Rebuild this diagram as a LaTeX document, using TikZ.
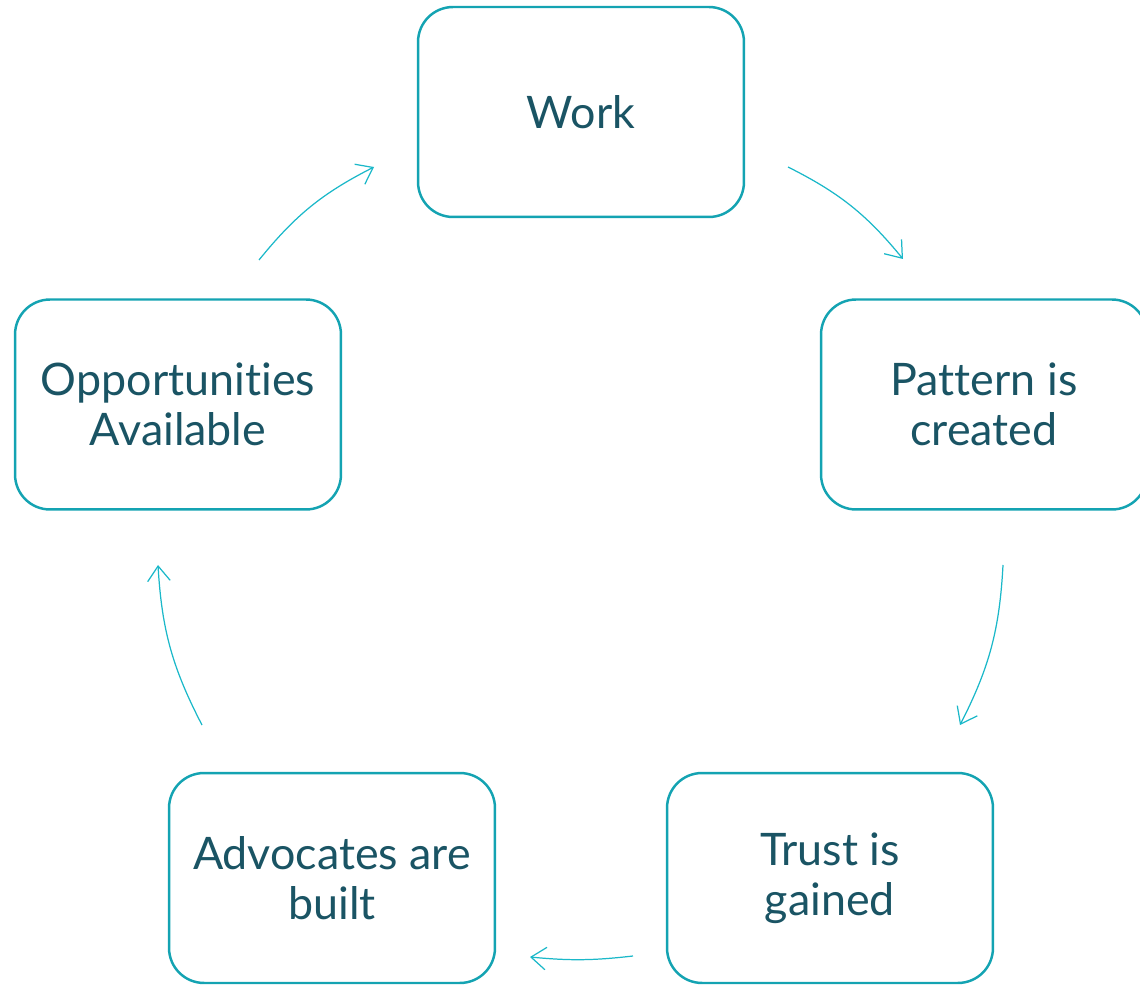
\documentclass[tikz,border=0pt]{standalone}
\usepackage{fontspec}
\setmainfont[Ligatures=NoCommon]{Lato}
\usepackage{xcolor}
\usetikzlibrary{arrows.meta}
\definecolor{boxcolor}{HTML}{14A3B2}
\definecolor{arrowcolor}{HTML}{1BB8C9}
\definecolor{textcolor}{HTML}{1A5464}
\tikzset{
  stagebox/.style={draw=boxcolor, line width=1.4pt, rounded corners=0.7cm, minimum width=6.52cm, minimum height=4.2cm, align=center, text=textcolor, font=\fontsize{25.5pt}{28.5pt}\selectfont},
  cyclearrow/.style={draw=arrowcolor, line width=0.7pt, -{Straight Barb[length=0.3cm, width=0.45cm]}, bend left=12}
}

\begin{document}
\begin{tikzpicture}[x=0.02cm, y=-0.02cm]%
\useasboundingbox (0,0) rectangle (1140,989);%
\node[stagebox] (work) at (581, 112) {Work};%
\node[stagebox] (pattern) at (984, 404.5) {Pattern is\\created};%
\node[stagebox] (trust) at (830, 878) {Trust is\\gained};%
\node[stagebox] (advocates) at (332, 878) {Advocates are\\built};%
\node[stagebox] (opportunities) at (178, 404.5) {Opportunities\\Available};%
\coordinate (a1) at (788, 167);%
\coordinate (b1) at (903, 259);%
\coordinate (a2) at (1003, 565);%
\coordinate (b2) at (960, 725);%
\coordinate (a3) at (633, 956);%
\coordinate (b3) at (530, 957);%
\coordinate (a4) at (202, 725);%
\coordinate (b4) at (158, 565);%
\coordinate (a5) at (259, 260);%
\coordinate (b5) at (374, 167);%
\draw[cyclearrow] (a1) to (b1);%
\draw[cyclearrow] (a2) to (b2);%
\draw[cyclearrow, bend left=6] (a3) to (b3);%
\draw[cyclearrow] (a4) to (b4);%
\draw[cyclearrow] (a5) to (b5);%
\end{tikzpicture}
\end{document}
